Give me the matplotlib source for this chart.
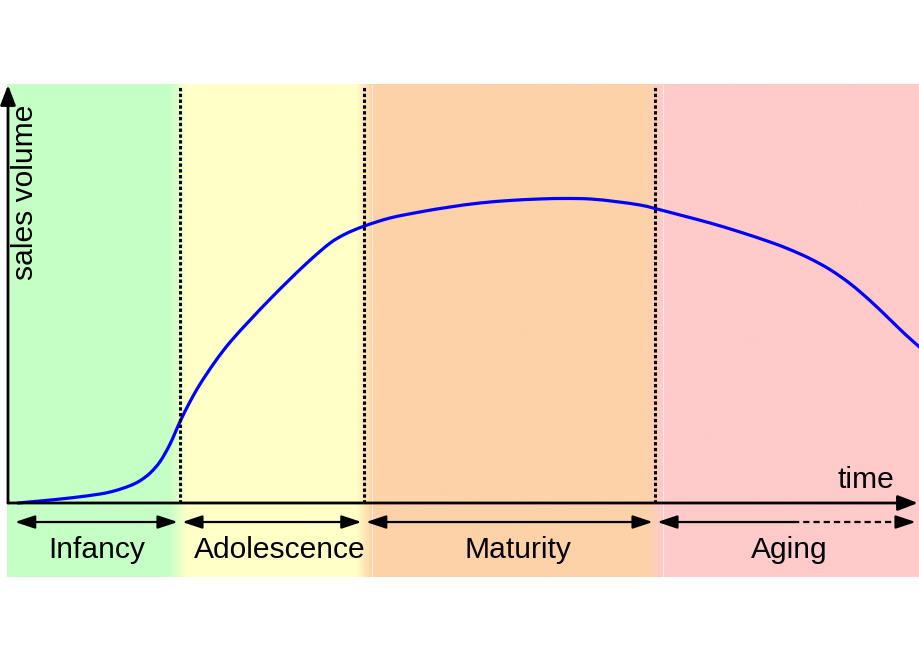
import numpy as np
import matplotlib
matplotlib.use('Agg')
import matplotlib.pyplot as plt
from matplotlib.patches import FancyArrowPatch, PathPatch
from matplotlib.path import Path
from matplotlib.colors import to_rgb

# ---- data (time units 0..100, sales units 0..100) ----
time = [1.10, 3.52, 6.81, 10.11, 11.76, 13.41, 14.51, 15.60, 16.70, 17.80,
        18.90, 20.00, 21.10, 22.75, 24.40, 26.59, 28.79, 30.99, 33.19, 35.38,
        37.03, 39.12, 41.98, 45.27, 48.57, 51.87, 55.16, 58.46, 61.21, 63.96,
        66.70, 69.45, 71.10, 73.85, 77.14, 80.44, 83.74, 85.93, 88.13, 90.33,
        92.53, 94.73, 96.92, 98.57, 100.22]
sales = [0.00, 0.48, 1.20, 2.15, 2.94, 4.14, 5.33, 7.13, 9.88, 14.07,
         19.45, 24.23, 28.42, 33.80, 38.47, 43.73, 48.76, 53.54, 58.09, 62.15,
         64.31, 66.22, 68.18, 69.62, 70.81, 71.77, 72.37, 72.73, 72.85, 72.73,
         72.13, 71.29, 70.45, 68.90, 66.99, 64.83, 62.44, 60.62, 58.47, 55.84,
         52.49, 48.42, 43.88, 40.41, 37.20]

phase_names = ['Infancy', 'Adolescence', 'Maturity', 'Aging']
phase_bounds = [0.0, 18.9, 39.1, 71.1, 100.0]
phase_colors = ['#c6ffc6', '#ffffc8', '#fdd2a8', '#ffcaca']
phase_label_x = [9.8, 29.9, 56.0, 85.9]
aging_solid_end = 86.3
x_label = 'time'
y_label = 'sales volume'

plt.rcParams['font.family'] = ['Liberation Sans', 'DejaVu Sans']

fig = plt.figure(figsize=(9.2, 6.6), dpi=100)
ax = fig.add_axes([0, 0, 1, 1])
ax.set_xlim(-0.879, 100.22)
ax.set_ylim(-37.56, 120.33)
ax.axis('off')

# ---- coloured phase bands with soft transitions ----
band_left, band_right = -0.1, 100.22
band_bottom, band_top = -17.7, 100.0
n = 3000
xs = np.linspace(band_left, band_right, n)
cols = [np.array(to_rgb(c)) for c in phase_colors]
trans = [(1.1, 0.8), (0.8, 0.9), (0.9, 0.9)]
color = np.tile(cols[0], (n, 1))
for i in range(1, 4):
    b = phase_bounds[i]
    a, c = trans[i - 1]
    w = np.clip((xs - (b - a)) / (a + c), 0, 1)[:, None]
    color = color * (1 - w) + cols[i] * w
ax.imshow(color[None, :, :], extent=[band_left, band_right, band_bottom, band_top],
          aspect='auto', interpolation='bilinear', zorder=0)
for b in phase_bounds[2:4]:
    ax.plot([b + 0.9, b + 0.9], [band_bottom, band_top], color='white', lw=0.8,
            alpha=0.6, zorder=1)

# ---- curve: smooth Bezier path through the data points (Catmull-Rom) ----
P = np.column_stack([time, sales])
verts = [P[0]]
codes = [Path.MOVETO]
for i in range(len(P) - 1):
    p0 = P[i - 1] if i > 0 else P[i]
    p1, p2 = P[i], P[i + 1]
    p3 = P[i + 2] if i + 2 < len(P) else P[i + 1]
    c1 = p1 + (p2 - p0) / 6.0
    c2 = p2 - (p3 - p1) / 6.0
    verts += [c1, c2, p2]
    codes += [Path.CURVE4] * 3
ax.add_patch(PathPatch(Path(verts, codes), facecolor='none', edgecolor='#0000ff',
                       lw=2.3, capstyle='round', zorder=3))

# ---- dotted phase separators ----
for b in phase_bounds[1:4]:
    ax.plot([b, b], [0, 100], color='black', lw=2.2,
            linestyle=(0, (1.1, 0.8)), zorder=4)

# ---- axes with arrows ----
axis_style = '-|>,head_length=12,head_width=4.6'
for start, end in [((0, 0), (100, 0)), ((0, 0), (0, 100))]:
    ax.add_patch(FancyArrowPatch(start, end, arrowstyle=axis_style, mutation_scale=1,
                                 lw=2.0, color='black', shrinkA=0, shrinkB=0, zorder=5))

# ---- phase arrows ----
arrow_y = -4.55
gap = 0.25
head = 'head_length=12,head_width=4.0'
for i in range(4):
    x0 = max(phase_bounds[i] + gap, 0.77)
    x1 = phase_bounds[i + 1] - gap
    if phase_names[i] == 'Aging':
        ax.add_patch(FancyArrowPatch((x0, arrow_y), (aging_solid_end, arrow_y),
                                     arrowstyle='<|-,' + head, mutation_scale=1, lw=1.6,
                                     color='black', shrinkA=0, shrinkB=0, zorder=5))
        ax.plot([aging_solid_end, x1 - 1.6], [arrow_y, arrow_y], color='black', lw=1.6,
                linestyle=(0, (2.8, 1.8)), zorder=5)
        ax.add_patch(FancyArrowPatch((x1 - 1.95, arrow_y), (x1, arrow_y),
                                     arrowstyle='-|>,' + head, mutation_scale=1, lw=1.6,
                                     color='black', shrinkA=0, shrinkB=0, zorder=5))
    else:
        ax.add_patch(FancyArrowPatch((x0, arrow_y), (x1, arrow_y),
                                     arrowstyle='<|-|>,' + head, mutation_scale=1, lw=1.6,
                                     color='black', shrinkA=0, shrinkB=0, zorder=5))
    ax.text(phase_label_x[i], -13.2, phase_names[i], ha='center', va='baseline',
            fontsize=21.6, color='black', zorder=6)

# ---- axis labels ----
ax.text(91.1, 3.6, x_label, ha='left', va='baseline', fontsize=21.6, zorder=6)
ax.text(1.87, 74.3, y_label, ha='center', va='center', rotation=90, fontsize=21.6,
        zorder=6)

fig.savefig('out.png', dpi=100)
